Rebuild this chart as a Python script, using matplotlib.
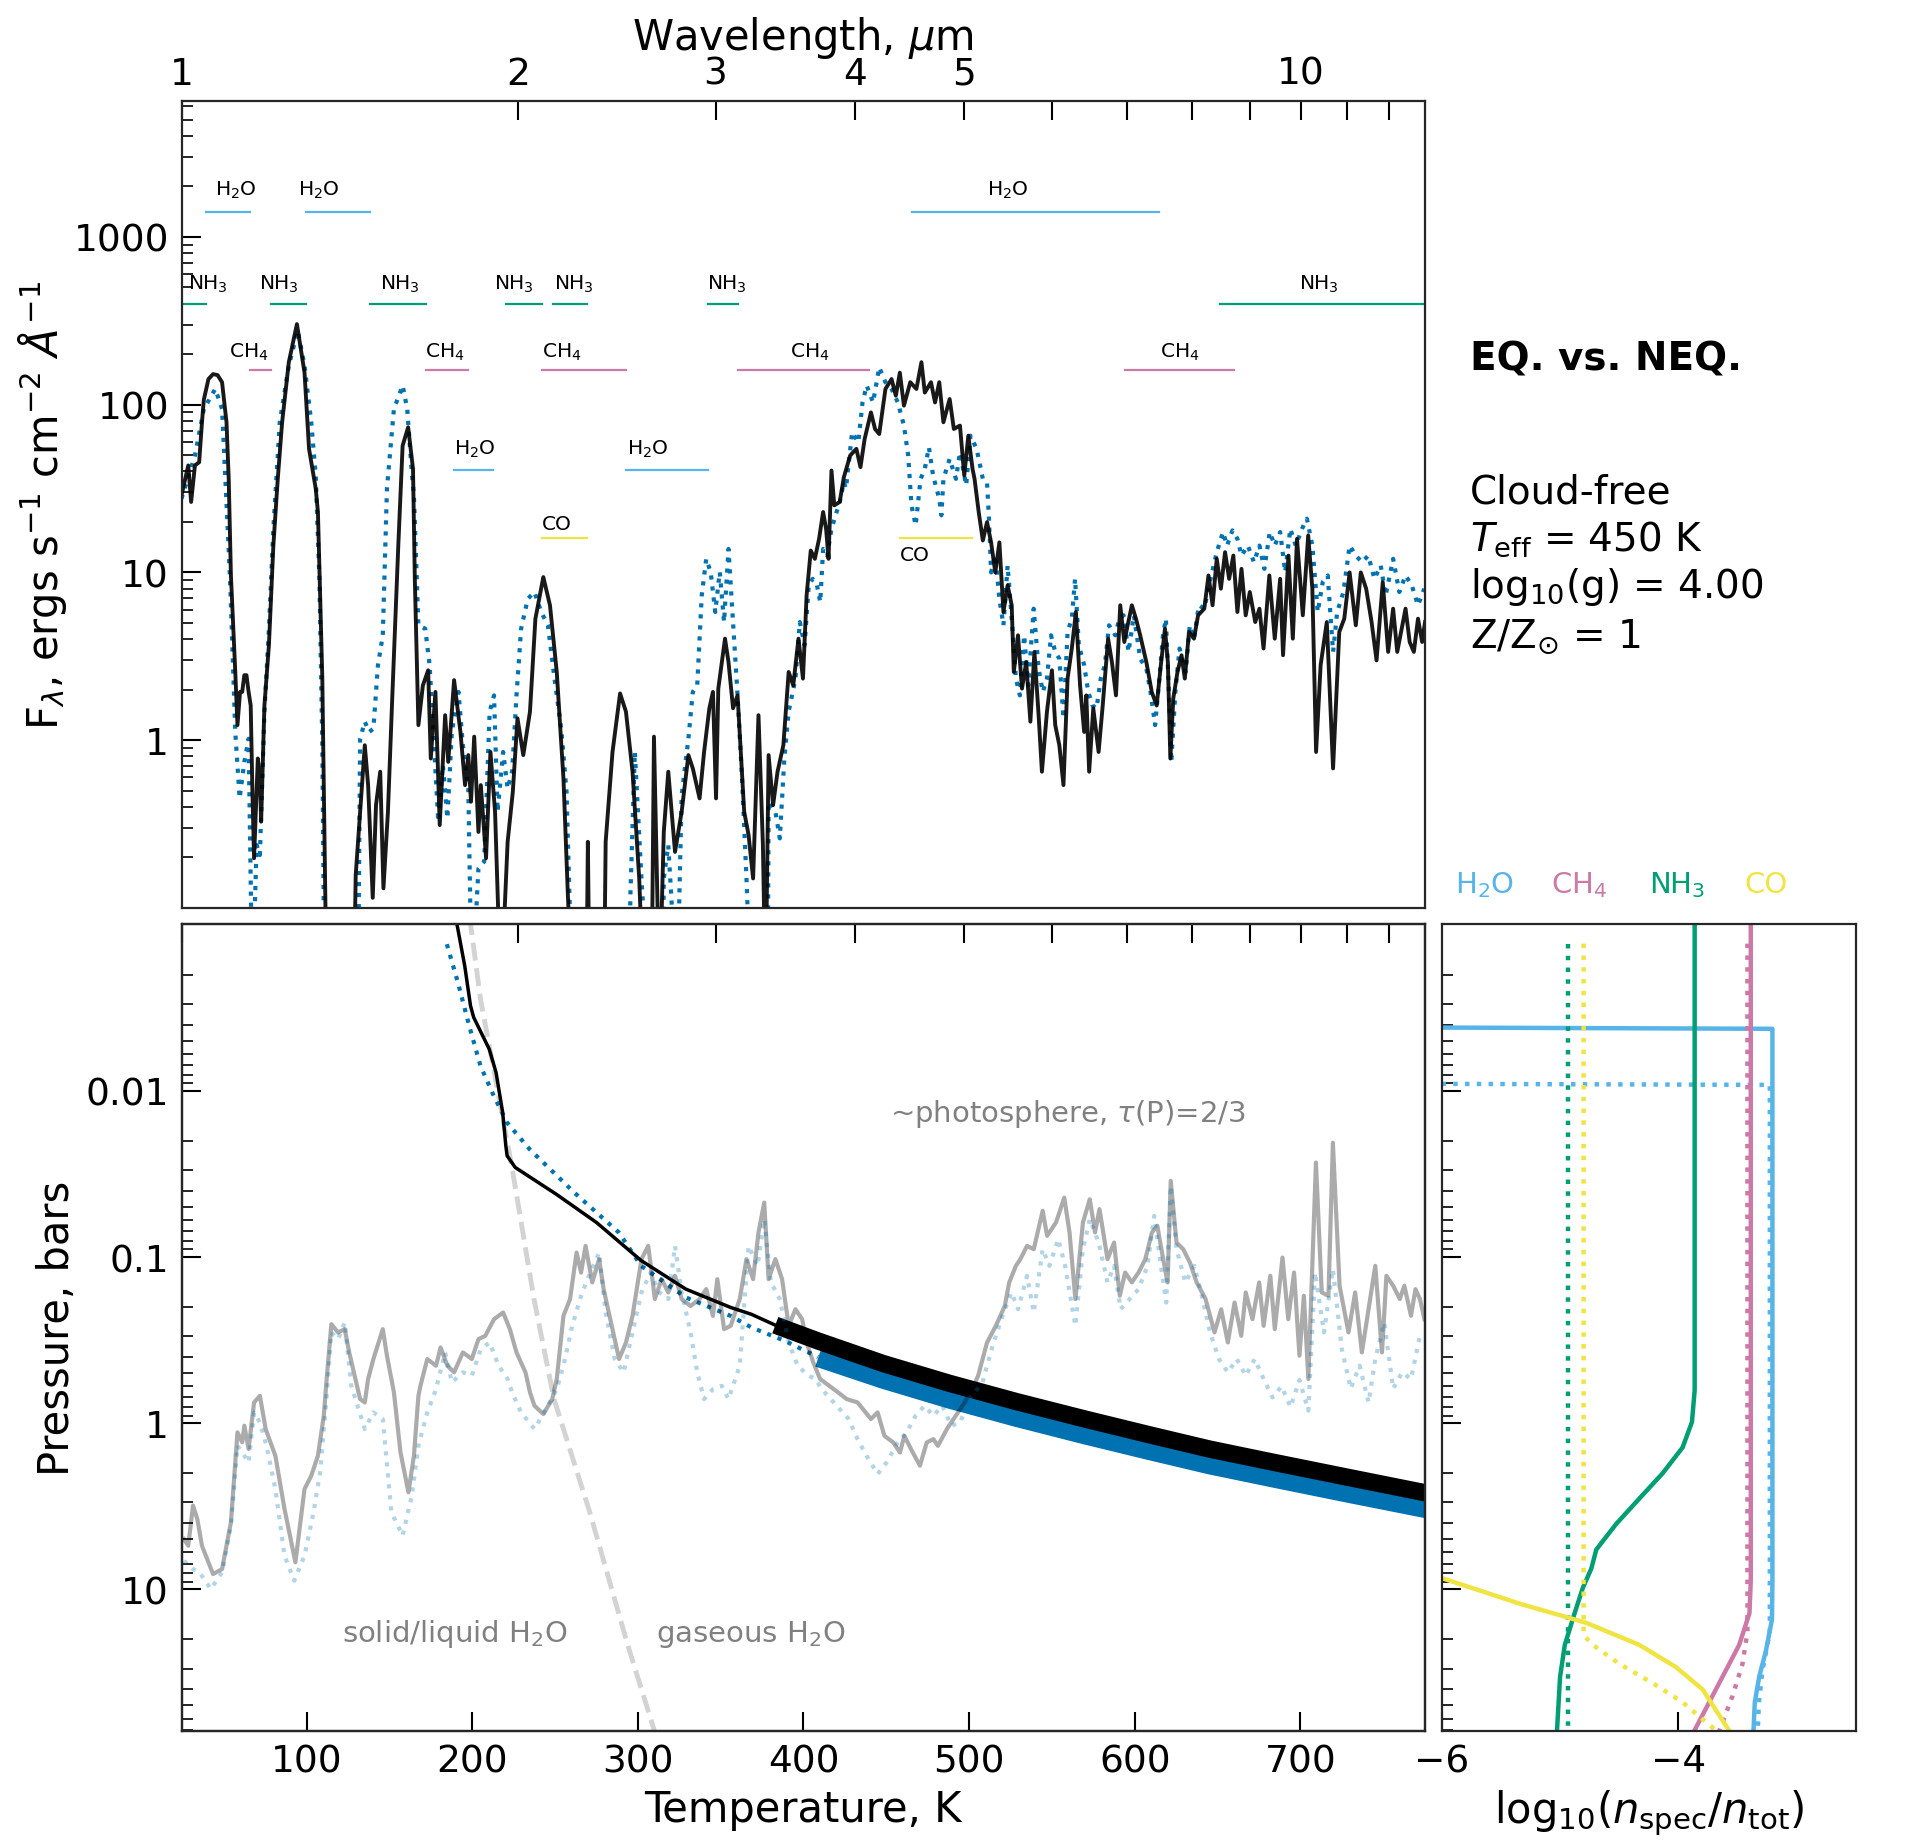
import numpy as np
import matplotlib
matplotlib.use('Agg')
import matplotlib.pyplot as plt
from matplotlib.ticker import FixedLocator, FixedFormatter, NullLocator, LogLocator

plt.rcParams['font.family'] = ['DejaVu Sans']
plt.rcParams['mathtext.fontset'] = 'dejavusans'
plt.rcParams['axes.linewidth'] = 1.6
plt.rcParams['axes.edgecolor'] = '0.15'

c_h2o = '#56B4E9'
c_ch4 = '#CC79A7'
c_nh3 = '#009E73'
c_co = '#F0E442'
c_blue = '#0072B2'

"""
spectrum, equilibrium chemistry (wavelength um, flux)
"""
eq_wl = [1.000, 1.014, 1.020, 1.028, 1.037, 1.043, 1.047, 1.057, 1.067, 1.077, 1.087, 1.097, 1.102, 1.107,
         1.112, 1.117, 1.122, 1.128, 1.133, 1.138, 1.143, 1.148, 1.153, 1.157, 1.161, 1.167, 1.170, 1.175,
         1.178, 1.186, 1.197, 1.208, 1.219, 1.230, 1.247, 1.268, 1.288, 1.300, 1.318, 1.324, 1.336, 1.348,
         1.425, 1.431, 1.444, 1.458, 1.468, 1.482, 1.492, 1.505, 1.515, 1.529, 1.543, 1.562, 1.576, 1.594,
         1.610, 1.616, 1.628, 1.643, 1.661, 1.670, 1.686, 1.701, 1.720, 1.731, 1.752, 1.775, 1.792, 1.804,
         1.814, 1.826, 1.842, 1.851, 1.871, 1.888, 1.906, 1.929, 1.956, 1.977, 1.996, 2.020, 2.048, 2.071,
         2.105, 2.134, 2.164, 2.194, 2.214, 2.234, 2.300, 2.307, 2.315, 2.385, 2.393, 2.427, 2.465, 2.495,
         2.529, 2.564, 2.588, 2.630, 2.643, 2.673, 2.697, 2.722, 2.760, 2.798, 2.837, 2.863, 2.903, 2.930,
         2.962, 2.984, 3.003, 3.017, 3.059, 3.081, 3.110, 3.139, 3.182, 3.211, 3.241, 3.277, 3.307, 3.325,
         3.346, 3.377, 3.408, 3.449, 3.487, 3.520, 3.558, 3.591, 3.618, 3.649, 3.680, 3.712, 3.743, 3.766,
         3.785, 3.808, 3.830, 3.873, 3.906, 3.957, 4.008, 4.042, 4.077, 4.130, 4.165, 4.201, 4.255, 4.309,
         4.347, 4.383, 4.420, 4.478, 4.535, 4.582, 4.614, 4.673, 4.712, 4.753, 4.794, 4.856, 4.898, 4.960,
         5.004, 5.046, 5.090, 5.111, 5.155, 5.199, 5.244, 5.288, 5.334, 5.379, 5.424, 5.471, 5.517, 5.541,
         5.589, 5.635, 5.684, 5.733, 5.781, 5.831, 5.871, 5.932, 5.993, 6.034, 6.085, 6.137, 6.189, 6.243,
         6.296, 6.350, 6.404, 6.432, 6.470, 6.525, 6.597, 6.653, 6.727, 6.780, 6.837, 6.897, 6.955, 7.003,
         7.064, 7.124, 7.186, 7.278, 7.359, 7.434, 7.498, 7.562, 7.607, 7.646, 7.692, 7.759, 7.824, 7.877,
         7.945, 8.027, 8.095, 8.199, 8.270, 8.340, 8.412, 8.484, 8.557, 8.629, 8.704, 8.777, 8.851, 8.928,
         9.004, 9.105, 9.184, 9.262, 9.373, 9.478, 9.584, 9.641, 9.749, 9.837, 9.922, 10.041, 10.153, 10.240,
         10.319, 10.416, 10.549, 10.686, 10.823, 10.935, 11.056, 11.198, 11.313, 11.439, 11.567, 11.686,
         11.836, 11.968, 12.091, 12.194, 12.404, 12.510, 12.618, 12.726, 12.835, 12.912]
eq_flux = [28.8, 43.4, 26.3, 43.4, 45.4, 78.5, 107, 142, 152, 150, 136, 78.5, 36, 9.6,
           5.0, 2.55, 1.23, 1.94, 1.94, 2.44, 2.44, 1.94, 1.61, 0.5, 0.198, 0.5, 0.778, 0.6,
           0.327, 1.61, 3.68, 14.45, 36.1, 78.5, 179, 302, 155, 54.5, 31.6, 22.9, 2.33, 0.03,
           0.03, 0.157, 0.375, 0.933, 0.540, 0.115, 0.410, 0.649, 0.131, 0.372, 1.85, 14.45, 57.0, 73.3,
           41.4, 9.16, 1.23, 2.12, 2.61, 0.778, 1.94, 0.312, 1.41, 0.743, 2.28, 1.12, 0.54, 0.815,
           0.430, 1.05, 0.284, 0.54, 0.198, 0.851, 0.375, 0.03, 0.248, 0.493, 1.35, 0.815, 1.48, 5.30,
           9.38, 6.37, 2.55, 0.592, 0.120, 0.03, 0.03, 0.248, 0.03, 0.03, 0.248, 0.851, 1.90, 1.48,
           0.649, 0.150, 0.03, 0.03, 1.05, 0.03, 0.284, 0.649, 0.216, 0.375, 0.815, 0.679, 0.450, 0.851,
           1.55, 1.94, 0.450, 2.03, 4.03, 2.92, 1.55, 1.85, 0.375, 0.272, 0.150, 1.41, 0.237, 0.03,
           0.815, 0.410, 0.649, 0.933, 2.55, 2.12, 4.03, 2.33, 7.29, 13.5, 12.05, 15.85, 22.9, 18.2,
           12.05, 40.5, 25.1, 26.3, 36.9, 49.7, 54.5, 42.4, 62.5, 89.9, 71.6, 66.8, 124, 142,
           113, 155, 98.6, 136, 124, 179, 118, 136, 103, 136, 78.5, 108, 71.6, 75.0,
           37.8, 65.3, 41.4, 36.1, 22.9, 15.5, 19.95, 15.1, 10.0, 15.1, 5.81, 8.38, 6.37, 2.55,
           4.22, 2.03, 2.92, 1.29, 3.36, 1.41, 0.649, 1.48, 2.61, 1.23, 0.933, 0.540, 2.33, 3.52,
           5.81, 2.12, 1.12, 1.85, 0.649, 1.55, 0.851, 1.61, 4.03, 2.92, 1.85, 6.37, 3.85, 4.84,
           6.37, 5.30, 4.22, 2.92, 1.94, 1.61, 2.80, 4.62, 2.92, 0.778, 1.77, 2.55, 3.21, 2.33,
           4.42, 4.03, 5.55, 6.08, 9.59, 6.37, 12.05, 8.00, 13.2, 9.16, 12.6, 5.81, 10.5, 5.55,
           7.64, 5.06, 6.08, 3.52, 9.59, 4.03, 9.16, 3.21, 12.6, 4.03, 15.85, 5.55, 16.6, 8.00,
           0.851, 2.80, 5.06, 0.679, 4.42, 5.30, 10.0, 4.84, 10.0, 8.00, 5.06, 2.99,
           8.75, 3.36, 6.08, 3.36, 6.08, 3.85, 3.36, 5.30, 3.85, 5.06]

"""
spectrum, non-equilibrium chemistry
"""
neq_wl = [1.000, 1.028, 1.047, 1.072, 1.087, 1.105, 1.117, 1.127, 1.138, 1.148, 1.157, 1.167, 1.175, 1.186,
          1.197, 1.208, 1.224, 1.247, 1.270, 1.288, 1.306, 1.318, 1.328, 1.336, 1.342, 1.438, 1.444, 1.458,
          1.471, 1.484, 1.498, 1.513, 1.526, 1.548, 1.576, 1.591, 1.606, 1.613, 1.628, 1.651, 1.666, 1.681,
          1.696, 1.712, 1.728, 1.744, 1.768, 1.784, 1.804, 1.817, 1.842, 1.864, 1.885, 1.902, 1.916, 1.938,
          1.956, 1.974, 1.992, 2.011, 2.039, 2.067, 2.096, 2.125, 2.154, 2.184, 2.208, 2.234, 2.510, 2.518,
          2.541, 2.576, 2.612, 2.690, 2.697, 2.722, 2.772, 2.798, 2.837, 2.863, 2.889, 2.916, 2.943, 2.970,
          2.998, 3.026, 3.053, 3.081, 3.110, 3.139, 3.168, 3.197, 3.226, 3.340, 3.346, 3.393, 3.424, 3.456,
          3.487, 3.536, 3.568, 3.603, 3.634, 3.664, 3.696, 3.721, 3.743, 3.775, 3.808, 3.840, 3.873, 3.906,
          3.923, 3.973, 4.024, 4.059, 4.094, 4.148, 4.201, 4.255, 4.309, 4.365, 4.420, 4.459, 4.489, 4.528,
          4.574, 4.614, 4.653, 4.693, 4.753, 4.774, 4.794, 4.856, 4.919, 4.960, 5.024, 5.068, 5.133, 5.199,
          5.244, 5.265, 5.288, 5.334, 5.379, 5.424, 5.471, 5.517, 5.565, 5.611, 5.660, 5.708, 5.772, 5.831,
          5.881, 5.932, 5.982, 6.034, 6.085, 6.137, 6.189, 6.243, 6.285, 6.334, 6.404, 6.458, 6.514, 6.569,
          6.626, 6.682, 6.740, 6.826, 6.884, 6.944, 7.016, 7.093, 7.186, 7.278, 7.340, 7.410, 7.466, 7.531,
          7.576, 7.615, 7.661, 7.725, 7.792, 7.891, 7.958, 8.027, 8.108, 8.199, 8.306, 8.412, 8.520, 8.592,
          8.688, 8.777, 8.851, 8.967, 9.082, 9.184, 9.277, 9.381, 9.478, 9.584, 9.683, 9.786, 9.896, 10.025,
          10.126, 10.240, 10.354, 10.461, 10.569, 10.686, 10.777, 10.916, 11.056, 11.198, 11.342, 11.488,
          11.636, 11.786, 11.907, 12.091, 12.246, 12.404, 12.564, 12.726, 12.890]
neq_flux = [27.5, 49.7, 94.2, 124, 94.2, 9.16, 1.12, 0.450, 0.743, 1.02, 0.03, 0.237, 0.207, 1.48,
            4.62, 18.2, 78.5, 171, 275, 171, 78.5, 37.8, 9.16, 0.933, 0.03, 0.03, 1.02, 1.29,
            1.12, 1.17, 2.80, 4.22, 31.6, 94.2, 130, 94.2, 39.5, 28.8, 4.84, 4.62, 2.80, 0.933,
            0.327, 0.710, 0.342, 1.12, 1.94, 0.933, 0.515, 0.03, 0.172, 0.189, 1.48, 1.85, 0.375, 0.851,
            0.515, 0.649, 1.85, 4.62, 6.97, 7.64, 5.81, 4.84, 2.33, 1.17, 0.493, 0.03, 0.03, 0.120,
            0.851, 0.150, 0.03, 0.03, 0.150, 0.237, 0.03, 0.471, 1.02, 1.94, 2.12, 7.29, 12.05, 10.05,
            5.81, 10.05, 5.06, 13.8, 5.06, 1.85, 0.592, 0.150, 0.03, 0.03, 0.430, 0.375, 0.260, 0.778,
            1.48, 2.33, 5.06, 3.68, 8.38, 9.16, 8.38, 6.65, 13.8, 12.6, 18.2, 21.9, 26.2, 34.5,
            31.6, 68.4, 59.7, 103, 130, 103, 167, 136, 124, 103, 75.0, 49.7, 25.1, 19.05,
            36.1, 41.4, 55.7, 37.8, 27.5, 21.9, 36.1, 47.5, 36.1, 52.0, 33.0, 65.3, 54.5, 36.1,
            34.4, 20.9, 10.0, 12.6, 6.97, 4.84, 11.0, 5.30, 2.33, 1.85, 4.22, 2.12, 6.08, 2.67,
            1.94, 2.33, 4.22, 3.36, 3.06, 1.35, 4.42, 5.30, 9.16, 3.68, 2.80, 1.94, 1.61, 1.55,
            2.33, 2.80, 4.84, 4.22, 5.30, 5.55, 3.36, 5.55, 3.06, 2.67, 1.94, 1.23, 2.12, 4.22,
            5.30, 2.33, 0.743, 1.94, 3.52, 2.55, 4.84, 4.03, 6.37, 6.08, 9.16, 13.2, 17.4, 14.45,
            17.8, 15.85, 12.6, 14.45, 11.5, 14.45, 10.5, 17.4, 14.45, 17.4, 10.05, 18.2, 14.45, 18.2,
            20.9, 14.45, 5.81, 8.75, 9.59, 3.36, 5.81, 7.64, 14.45, 12.6, 11.5, 12.6,
            9.16, 11.0, 7.29, 12.05, 7.64, 9.59, 8.38, 6.37, 8.00]

"""
absorption bands: start, end, label position (um) and height (flux)
"""
h2o_lo = [1.052, 1.293, 4.49, 1.753, 2.497]
h2o_hi = [1.152, 1.473, 7.47, 1.899, 2.951]
h2o_lab = [1.119, 1.327, 5.47, 1.829, 2.608]
h2o_y = [1410, 1410, 1410, 40.5, 40.5]
nh3_lo = [1.0, 1.203, 1.473, 1.950, 2.149, 2.951, 8.47]
nh3_hi = [1.052, 1.293, 1.652, 2.101, 2.301, 3.145, 12.95]
nh3_lab = [1.056, 1.222, 1.568, 1.982, 2.239, 3.073, 10.38]
nh3_y = [397] * 7
ch4_lo = [1.152, 1.652, 2.101, 3.145, 6.97]
ch4_hi = [1.203, 1.801, 2.497, 4.11, 8.72]
ch4_lab = [1.149, 1.720, 2.188, 3.645, 7.79]
ch4_y = [161] * 5
co_lo = [2.101, 4.387]
co_hi = [2.301, 5.088]
co_lab = [2.163, 4.524]
co_y = [16.1, 16.1]
co_above = [True, False]

"""
T-P profiles (K, bar)
"""
eq_T = [190.0, 195.5, 199.0, 200.9, 210.3, 214.4, 218.4, 220.3, 221.1, 226.0, 250.8, 275.0, 302.0,
        329.0, 356.0, 368.5, 383.0]
eq_P = [0.0009, 0.00177, 0.00308, 0.00361, 0.00561, 0.00775, 0.0135, 0.0214, 0.0246, 0.0289, 0.0419,
        0.0619, 0.105, 0.156, 0.201, 0.221, 0.257]
eq_conv_T = [383.0, 408.8, 448.0, 488.0, 528.5, 570.0, 609.0, 645.0, 681.4, 728.0, 776.0]
eq_conv_P = [0.257, 0.320, 0.437, 0.575, 0.741, 0.944, 1.175, 1.43, 1.70, 2.11, 2.63]
neq_T = [184.7, 191.4, 198.2, 205.0, 213.0, 221.0, 234.6, 261.6, 288.5, 302.0, 329.0, 356.0, 368.5,
         388.6, 408.8]
neq_P = [0.00131, 0.00223, 0.00406, 0.00707, 0.0107, 0.0155, 0.0224, 0.0409, 0.0711, 0.113, 0.175,
         0.226, 0.265, 0.319, 0.40]
neq_conv_T = [408.8, 448.0, 488.0, 528.5, 570.0, 609.0, 645.0, 681.4, 728.0, 776.0]
neq_conv_P = [0.407, 0.55, 0.724, 0.933, 1.19, 1.48, 1.80, 2.14, 2.66, 3.31]
cond_T = [198.5, 199.0, 205.0, 223.8, 237.3, 249.4, 271.0, 294.0, 310.0]
cond_P = [0.0009, 0.00099, 0.0028, 0.028, 0.179, 0.716, 3.44, 21.8, 71.0]

"""
photosphere tau=2/3 pressure vs wavelength
"""
pho_eq_wl = [1.005, 1.014, 1.024, 1.033, 1.043, 1.067, 1.087, 1.107, 1.122, 1.133, 1.138, 1.148, 1.161,
             1.175, 1.189, 1.213, 1.236, 1.264, 1.288, 1.306, 1.324, 1.340, 1.348, 1.361, 1.380, 1.399,
             1.412, 1.444, 1.458, 1.468, 1.484, 1.513, 1.526, 1.548, 1.569, 1.595, 1.613, 1.628, 1.635,
             1.658, 1.688, 1.704, 1.728, 1.752, 1.784, 1.817, 1.842, 1.868, 1.902, 1.938, 1.965, 1.992,
             2.029, 2.048, 2.067, 2.105, 2.144, 2.164, 2.194, 2.224, 2.254, 2.275, 2.296, 2.328, 2.361,
             2.383, 2.416, 2.460, 2.495, 2.529, 2.576, 2.612, 2.648, 2.685, 2.722, 2.760, 2.798, 2.850,
             2.903, 2.943, 2.984, 3.011, 3.053, 3.095, 3.153, 3.197, 3.241, 3.277, 3.316, 3.346, 3.393,
             3.440, 3.487, 3.536, 3.585, 3.618, 3.668, 3.720, 3.788, 3.859, 3.929, 4.018, 4.130, 4.187,
             4.246, 4.324, 4.384, 4.424, 4.485, 4.568, 4.632, 4.696, 4.740, 4.828, 4.917, 5.009, 5.102,
             5.149, 5.244, 5.340, 5.439, 5.489, 5.565, 5.616, 5.694, 5.773, 5.880, 5.934, 6.044, 6.147,
             6.214, 6.289, 6.388, 6.478, 6.549, 6.609, 6.719, 6.810, 6.891, 6.967, 7.064, 7.162, 7.262,
             7.362, 7.444, 7.534, 7.603, 7.652, 7.744, 7.851, 7.960, 8.071, 8.221, 8.373, 8.489, 8.606,
             8.726, 8.847, 8.929, 9.053, 9.179, 9.264, 9.392, 9.479, 9.630, 9.745, 9.862, 9.972, 10.063,
             10.156, 10.316, 10.440, 10.585, 10.682, 10.830, 11.030, 11.183, 11.338, 11.495, 11.655,
             11.817, 11.926, 12.092, 12.259, 12.373, 12.544, 12.660, 12.777, 12.895]
pho_eq_P = [4.98, 5.46, 3.13, 3.77, 5.46, 8.09, 7.55, 3.95, 1.135, 1.303, 1.035, 1.429, 0.750,
            0.684, 1.084, 1.570, 3.28, 6.87, 2.49, 2.07, 1.570, 0.902, 0.542, 0.2535, 0.2844, 0.2716,
            0.375, 0.716, 0.750, 0.542, 0.411, 0.2716, 0.3926, 0.6516, 1.496, 2.606, 1.570, 0.684, 0.594,
            0.411, 0.451, 0.350, 0.451, 0.494, 0.375, 0.411, 0.312, 0.298, 0.2366, 0.2158, 0.2716, 0.375,
            0.494, 0.652, 0.785, 0.881, 0.716, 0.542, 0.226, 0.179, 0.094, 0.124, 0.0857, 0.1422, 0.103,
            0.156, 0.2366, 0.411, 0.327, 0.226, 0.103, 0.0857, 0.179, 0.1358, 0.1633, 0.1297, 0.179, 0.197,
            0.179, 0.156, 0.226, 0.1358, 0.2716, 0.2594, 0.179, 0.103, 0.1358, 0.0711, 0.047, 0.1358, 0.103,
            0.1358, 0.2594, 0.2061, 0.2366, 0.3266, 0.4305, 0.542, 0.594, 0.652, 0.716, 0.750, 0.944, 0.861,
            1.191, 1.306, 1.500, 1.191, 1.432, 1.803, 1.306, 1.247, 1.368, 1.086, 0.902, 0.750, 0.596,
            0.518, 0.327, 0.2594, 0.1968, 0.1422, 0.1130, 0.1030, 0.0857, 0.0897, 0.0527, 0.0745, 0.0619,
            0.0439, 0.0711, 0.179, 0.0619, 0.0449, 0.0711, 0.0515, 0.103, 0.0818, 0.171, 0.1239, 0.1422,
            0.1239, 0.103, 0.0711, 0.0649, 0.103, 0.1422, 0.0348, 0.0818, 0.0897, 0.1079, 0.1422, 0.179,
            0.2844, 0.2061, 0.3266, 0.1879, 0.2979, 0.1633, 0.2366, 0.1422, 0.2594, 0.1297, 0.2716,
            0.1007, 0.2366, 0.1239, 0.3926, 0.171, 0.542, 0.0270, 0.1633, 0.171, 0.0205, 0.1489, 0.2844,
            0.1633, 0.375, 0.2061, 0.1130, 0.375, 0.1297, 0.1489, 0.179, 0.1489, 0.2259, 0.156, 0.179,
            0.2366]
pho_neq_wl = [1.005, 1.024, 1.038, 1.062, 1.087, 1.107, 1.122, 1.138, 1.148, 1.161, 1.175, 1.191, 1.213,
              1.236, 1.261, 1.288, 1.312, 1.330, 1.348, 1.361, 1.380, 1.399, 1.418, 1.458, 1.484, 1.513,
              1.540, 1.576, 1.606, 1.628, 1.658, 1.688, 1.720, 1.744, 1.784, 1.817, 1.851, 1.885, 1.920,
              1.956, 1.974, 2.011, 2.067, 2.125, 2.164, 2.194, 2.234, 2.275, 2.318, 2.361, 2.393, 2.438,
              2.483, 2.529, 2.576, 2.624, 2.673, 2.722, 2.760, 2.798, 2.850, 2.889, 2.930, 2.984, 3.039,
              3.081, 3.153, 3.211, 3.271, 3.316, 3.362, 3.424, 3.487, 3.552, 3.632, 3.685, 3.733, 3.802,
              3.945, 4.018, 4.093, 4.187, 4.265, 4.364, 4.445, 4.527, 4.611, 4.696, 4.783, 4.873, 4.963,
              5.055, 5.196, 5.244, 5.316, 5.414, 5.514, 5.590, 5.694, 5.773, 5.880, 5.962, 6.072, 6.158,
              6.289, 6.388, 6.478, 6.597, 6.719, 6.810, 6.903, 7.031, 7.162, 7.295, 7.396, 7.499, 7.582,
              7.652, 7.744, 7.886, 8.034, 8.145, 8.297, 8.450, 8.606, 8.766, 8.929, 9.095, 9.264, 9.435,
              9.612, 9.790, 9.972, 10.156, 10.297, 10.488, 10.682, 10.880, 11.081, 11.286, 11.495, 11.655,
              11.871, 12.092, 12.316, 12.544, 12.777]
pho_neq_P = [6.73, 7.55, 7.91, 9.95, 7.91, 4.14, 1.365, 1.570, 1.722, 0.861, 0.989, 1.365, 2.489,
             6.266, 8.872, 6.266, 3.436, 1.977, 0.684, 0.2844, 0.3119, 0.2477, 0.594, 1.084, 0.861, 0.944,
             3.436, 4.753, 2.729, 1.365, 0.861, 0.6237, 0.375, 0.5675, 0.4943, 0.5176, 0.3581, 0.3266,
             0.4508, 0.542, 0.6516, 0.861, 1.084, 0.7852, 0.6237, 0.4508, 0.2594, 0.171, 0.1239, 0.094,
             0.2158, 0.411, 0.4943, 0.2844, 0.1633, 0.1239, 0.1633, 0.1791, 0.0857, 0.1633, 0.2844, 0.4943,
             0.7161, 0.6237, 0.5957, 0.7161, 0.4508, 0.0857, 0.113, 0.0592, 0.1422, 0.1791, 0.3266, 0.4508,
             0.518, 0.542, 0.6237, 0.7161, 0.944, 1.247, 1.570, 2.023, 1.722, 1.306, 1.135, 0.902, 0.7852,
             0.902, 0.7852, 1.035, 0.9886, 0.7161, 0.569, 0.4508, 0.3266, 0.2259, 0.1633, 0.2061, 0.1297,
             0.2158, 0.0897, 0.113, 0.078, 0.113, 0.2594, 0.0897, 0.0592, 0.0818, 0.1422, 0.113, 0.2061,
             0.1791, 0.156, 0.113, 0.0565, 0.113, 0.1879, 0.0373, 0.0897, 0.1422, 0.113, 0.1633, 0.2844,
             0.411, 0.4943, 0.411, 0.5176, 0.411, 0.542, 0.70, 0.60, 0.80, 0.55, 0.84, 0.1239, 0.2844,
             0.1183, 0.3581, 0.62, 0.4508, 0.75, 0.411, 0.2477, 0.62, 0.4943, 0.542, 0.2979]

"""
abundances, log10(n_spec/n_tot) vs pressure (bar)
"""
h2o_eq_P = [0.0009, 0.00401, 0.00423, 8.9, 15.2, 23.6, 33.6, 47.8, 71.0]
h2o_eq_x = [-12.0, -12.0, -3.206, -3.206, -3.21, -3.262, -3.318, -3.355, -3.366]
h2o_neq_P = [0.0013, 0.0088, 0.0092, 18.1, 30.7, 47.8, 71.0]
h2o_neq_x = [-12.0, -12.0, -3.228, -3.228, -3.29, -3.32, -3.33]
ch4_eq_P = [0.0009, 8.9, 13.9, 21.6, 33.6, 47.8, 71.0]
ch4_eq_x = [-3.389, -3.389, -3.40, -3.487, -3.628, -3.74, -3.866]
ch4_neq_P = [0.0013, 18.0, 28.1, 43.8, 71.0]
ch4_neq_x = [-3.417, -3.417, -3.459, -3.543, -3.655]
nh3_eq_P = [0.0009, 0.634, 0.985, 1.40, 2.0, 2.84, 4.04, 5.76, 7.5, 9.77, 13.9, 21.6, 33.6, 71.0]
nh3_eq_x = [-3.863, -3.863, -3.886, -3.965, -4.133, -4.33, -4.526, -4.694, -4.736, -4.807, -4.877,
            -4.96, -5.0, -5.026]
nh3_neq_P = [0.0013, 71.0]
nh3_neq_x = [-4.933, -4.933]
co_eq_P = [7.0, 8.55, 12.2, 15.9, 21.6, 29.4, 40.0, 71.0]
co_eq_x = [-6.6, -6.0, -5.34, -4.779, -4.33, -4.02, -3.796, -3.571]
co_neq_P = [0.0013, 18.9, 21.6, 28.1, 36.7, 47.8, 71.0]
co_neq_x = [-4.801, -4.801, -4.723, -4.498, -4.217, -3.965, -3.68]

wl_ticks = list(range(1, 13))
wl_labels = ['1', '2', '3', '4', '5', '', '', '', '', '10', '', '']

W, H = 1925, 1849
fig = plt.figure(figsize=(W / 100, H / 100), dpi=100)
x0, x1 = 181.5, 1424.6
ax_s = fig.add_axes([x0 / W, 1 - 909 / H, (x1 - x0) / W, (909 - 102) / H])
ax_tp = fig.add_axes([x0 / W, 1 - 1731.7 / H, (x1 - x0) / W, (1731.7 - 925) / H])

"""
spectrum panel
"""
ax_s.set_xscale('log')
ax_s.set_yscale('log')
ax_s.plot(neq_wl, neq_flux, color=c_blue, ls=':', lw=3)
ax_s.plot(eq_wl, eq_flux, color='k', alpha=0.9, lw=2.8)

bands = [(h2o_lo, h2o_hi, h2o_lab, h2o_y, c_h2o, 'H$_2$O', 1.257),
         (nh3_lo, nh3_hi, nh3_lab, nh3_y, c_nh3, 'NH$_3$', 1.228),
         (ch4_lo, ch4_hi, ch4_lab, ch4_y, c_ch4, 'CH$_4$', 1.2)]
for lo, hi, lab, yy, col, name, fac in bands:
    for a, b, lx, y in zip(lo, hi, lab, yy):
        ax_s.plot([a, b], [y, y], color=col, lw=1.6)
        ax_s.text(lx, y * fac, name, fontsize=14.5, ha='center', va='baseline')
for a, b, lx, y, up in zip(co_lo, co_hi, co_lab, co_y, co_above):
    ax_s.plot([a, b], [y, y], color=c_co, lw=1.6)
    if up:
        ax_s.text(lx, y * 1.12, 'CO', fontsize=14.5, ha='center', va='baseline')
    else:
        ax_s.text(lx, y / 1.1, 'CO', fontsize=14.5, ha='center', va='top')

ax_s.set_xlim(1.0, 12.9)
ax_s.set_ylim(0.1, 6450)
ax_s.xaxis.set_major_locator(FixedLocator(wl_ticks))
ax_s.xaxis.set_major_formatter(FixedFormatter(wl_labels))
ax_s.xaxis.set_minor_locator(NullLocator())
ax_s.xaxis.tick_top()
ax_s.xaxis.set_label_position('top')
ax_s.set_xlabel('Wavelength, $\\mu$m', fontsize=30, labelpad=5)
ax_s.yaxis.set_major_locator(FixedLocator([1, 10, 100, 1000]))
ax_s.yaxis.set_major_formatter(FixedFormatter(['1', '10', '100', '1000']))
ax_s.yaxis.set_minor_locator(LogLocator(base=10, subs=np.arange(2, 10), numticks=50))
ax_s.set_ylabel(r'F$_{\lambda}$, ergs s$^{-1}$ cm$^{-2}$ $\AA^{-1}$', fontsize=30, labelpad=3.5)
ax_s.tick_params(axis='x', which='major', top=True, bottom=False, labeltop=True, labelbottom=False,
                 direction='in', length=14, width=1.5, labelsize=27, pad=6.5)
ax_s.tick_params(axis='y', which='major', left=True, right=False, direction='in', length=14,
                 width=1.5, labelsize=27, pad=9)
ax_s.tick_params(axis='y', which='minor', left=True, right=False, direction='in', length=8, width=1.2)

"""
T-P panel
"""
ax_tp.set_yscale('log')
ax_tp.plot(cond_T, cond_P, color='lightgray', ls='--', lw=3.5)
ax_tp.plot(neq_T, neq_P, color=c_blue, ls=':', lw=3)
ax_tp.plot(eq_T, eq_P, color='k', lw=2.5)
ax_tp.plot(neq_conv_T, neq_conv_P, color=c_blue, lw=12.5, solid_capstyle='butt')
ax_tp.plot(eq_conv_T, eq_conv_P, color='k', lw=12.5, solid_capstyle='butt')
ax_tp.set_xlim(24.5, 775)
ax_tp.set_ylim(70.9, 0.00099)
ax_tp.xaxis.set_major_locator(FixedLocator([100, 200, 300, 400, 500, 600, 700]))
ax_tp.yaxis.set_major_locator(FixedLocator([0.01, 0.1, 1, 10]))
ax_tp.yaxis.set_major_formatter(FixedFormatter(['0.01', '0.1', '1', '10']))
ax_tp.yaxis.set_minor_locator(LogLocator(base=10, subs=np.arange(2, 10), numticks=50))
ax_tp.set_xlabel('Temperature, K', fontsize=30, labelpad=6)
ax_tp.set_ylabel('Pressure, bars', fontsize=30, labelpad=5.5)
ax_tp.tick_params(axis='x', which='major', bottom=True, top=False, direction='in', length=14,
                  width=1.5, labelsize=27, pad=9)
ax_tp.tick_params(axis='y', which='major', left=True, right=False, direction='in', length=14,
                  width=1.5, labelsize=27, pad=9)
ax_tp.tick_params(axis='y', which='minor', left=True, right=False, direction='in', length=8, width=1.2)

ax_tp.text(121.3, 20.4, 'solid/liquid H$_2$O', fontsize=21, color='gray', ha='left', va='baseline')
ax_tp.text(311.2, 20.4, 'gaseous H$_2$O', fontsize=21, color='gray', ha='left', va='baseline')
ax_tp.text(452.4, 0.01515, '~photosphere, $\\tau$(P)=2/3', fontsize=21, color='gray', ha='left',
           va='baseline')

ax_w = ax_tp.twiny()
ax_w.set_xscale('log')
ax_w.plot(pho_eq_wl, pho_eq_P, color='k', alpha=0.33, lw=3)
ax_w.plot(pho_neq_wl, pho_neq_P, color=c_blue, alpha=0.3, ls=':', lw=3)
ax_w.set_xlim(1.0, 12.9)
ax_w.xaxis.set_major_locator(FixedLocator(wl_ticks))
ax_w.xaxis.set_minor_locator(NullLocator())
ax_w.tick_params(axis='x', which='major', top=True, direction='in', length=14, width=1.5,
                 labeltop=False)

"""
abundance panel
"""
ax_ab = fig.add_axes([1441.7 / W, 1 - 1731.7 / H, (1856 - 1441.7) / W, (1731.7 - 925) / H],
                     sharey=ax_tp)
ax_ab.plot(h2o_eq_x, h2o_eq_P, color=c_h2o, lw=3.2)
ax_ab.plot(h2o_neq_x, h2o_neq_P, color=c_h2o, lw=3.2, ls=':')
ax_ab.plot(ch4_eq_x, ch4_eq_P, color=c_ch4, lw=3.2)
ax_ab.plot(ch4_neq_x, ch4_neq_P, color=c_ch4, lw=3.2, ls=':')
ax_ab.plot(nh3_eq_x, nh3_eq_P, color=c_nh3, lw=3.2)
ax_ab.plot(nh3_neq_x, nh3_neq_P, color=c_nh3, lw=3.2, ls=':')
ax_ab.plot(co_eq_x, co_eq_P, color=c_co, lw=3.2)
ax_ab.plot(co_neq_x, co_neq_P, color=c_co, lw=3.2, ls=':')
ax_ab.set_xlim(-6, -2.5)
ax_ab.xaxis.set_major_locator(FixedLocator([-6, -4]))
ax_ab.xaxis.set_minor_locator(NullLocator())
ax_ab.set_xlabel(r'log$_{10}$($n_{\rm spec}$/$n_{\rm tot}$)', fontsize=30, labelpad=6)
ax_ab.tick_params(axis='x', which='major', bottom=True, top=False, direction='in', length=14,
                  width=1.5, labelsize=27, pad=9)
ax_ab.tick_params(axis='y', which='both', left=True, right=False, labelleft=False, direction='in')
ax_ab.tick_params(axis='y', which='major', length=14, width=1.5)
ax_ab.tick_params(axis='y', which='minor', length=8, width=1.2)

species = ['H$_2$O', 'CH$_4$', 'NH$_3$', 'CO']
species_col = [c_h2o, c_ch4, c_nh3, c_co]
species_x = [0.1045, 0.3314, 0.568, 0.7829]
for s, c, sx in zip(species, species_col, species_x):
    ax_ab.text(sx, 1.0496, s, color=c, fontsize=21, ha='center', va='center', transform=ax_ab.transAxes)

"""
model description
"""
fig.text(1470 / W, 1 - 370.7 / H, 'EQ. vs. NEQ.', fontsize=28, fontweight='bold', va='baseline')
info = ['Cloud-free', '$T_{\\rm eff}$ = 450 K', 'log$_{10}$(g) = 4.00', 'Z/Z$_{\\odot}$ = 1']
info_base = [504, 550.7, 598, 648]
for line, yb in zip(info, info_base):
    fig.text(1470 / W, 1 - yb / H, line, fontsize=28, va='baseline')

fig.savefig('out.png', dpi=100)
